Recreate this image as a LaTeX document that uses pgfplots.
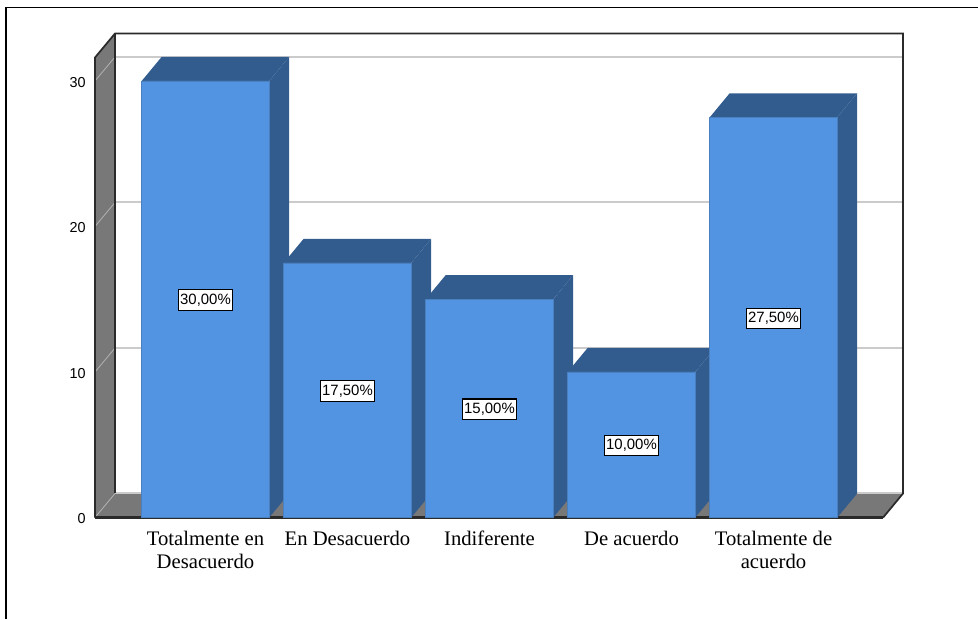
\documentclass[border=0pt]{standalone}
\usepackage{fontspec}
\setmainfont{Liberation Serif}
\setsansfont{Liberation Sans}
\usepackage{pgfplots}
\pgfplotsset{compat=1.18}
\definecolor{barfront}{HTML}{5294E2}
\definecolor{bardark}{HTML}{335C8E}
\definecolor{baredge}{HTML}{4A80C0}
\definecolor{wallgray}{HTML}{787878}
\definecolor{gridgray}{HTML}{CBCBCB}
\definecolor{framedark}{HTML}{2A2A2A}
\pgfplotstableread{
x v
0 30
1 17.5
2 15
3 10
4 27.5
}\bardata
\begin{document}
\begin{tikzpicture}
% page = 978x619 px at 0.75pt per px; axis origin sits at pixel (95,517.5)
\path[use as bounding box] (-71.25pt,-76.125pt) rectangle (662.25pt,388.125pt);
\draw[black,line width=0.9pt] (-66.75pt,-76.125pt) -- (-66.75pt,382.2pt) -- (662.25pt,382.2pt);
\begin{axis}[
  at={(0,0)},anchor=south west,
  scale only axis,width=606pt,height=363pt,
  xmin=-0.778,xmax=4.912,ymin=0,ymax=33.26,
  clip=false,
  axis line style={draw=none},
  major tick length=0pt,
  xtick={0,1,2,3,4},
  xticklabels={{\strut Totalmente en\\Desacuerdo},{\strut En Desacuerdo},{\strut Indiferente},{\strut De acuerdo},{\strut Totalmente de\\acuerdo}},
  xticklabel style={font=\fontsize{15.5}{17}\selectfont,align=center,yshift=-5.6pt},
  ytick={0,10,20,30},
  yticklabel style={font=\sffamily\fontsize{10.8}{13}\selectfont,xshift=-3.5pt,yshift=-1pt},
  /pgf/number format/assume math mode=true,
]
% walls
\addplot[fill=wallgray,draw=none] coordinates {(-0.778,0) (-0.637,1.65) (-0.637,33.26) (-0.778,31.61)} --cycle;
\addplot[fill=wallgray,draw=none] coordinates {(-0.778,0) (4.772,0) (4.912,1.65) (-0.637,1.65)} --cycle;
% gridlines on back wall and left wall
\addplot[gridgray,line width=1.5pt] coordinates {(-0.637,11.65) (4.912,11.65)};
\addplot[gridgray,line width=1.5pt] coordinates {(-0.637,21.65) (4.912,21.65)};
\addplot[gridgray,line width=1.5pt] coordinates {(-0.637,31.65) (4.912,31.65)};
\addplot[gridgray,line width=1.5pt] coordinates {(-0.637,1.65) (4.912,1.65)};
\addplot[gray!60,line width=0.6pt] coordinates {(-0.778,0) (-0.637,1.65)};
\addplot[gray!60,line width=0.6pt] coordinates {(-0.778,10) (-0.637,11.65)};
\addplot[gray!60,line width=0.6pt] coordinates {(-0.778,20) (-0.637,21.65)};
\addplot[gray!60,line width=0.6pt] coordinates {(-0.778,30) (-0.637,31.65)};
% frame
\addplot[framedark,line width=1.3pt] coordinates {(-0.778,0) (-0.778,31.61) (-0.637,33.26) (4.912,33.26) (4.912,1.65) (4.772,0)};
\addplot[framedark,line width=1.3pt] coordinates {(-0.637,33.26) (-0.637,1.65)};
\addplot[framedark,line width=1.6pt] coordinates {(-0.778,0) (4.772,0)};
% bar sides and tops
\addplot[fill=bardark,draw=none] coordinates {(0.449,0) (0.589,1.65) (0.589,31.65) (0.449,30)} --cycle;
\addplot[fill=bardark,draw=none] coordinates {(-0.449,30) (-0.309,31.65) (0.589,31.65) (0.449,30)} --cycle;
\addplot[fill=bardark,draw=none] coordinates {(1.449,0) (1.589,1.65) (1.589,19.15) (1.449,17.5)} --cycle;
\addplot[fill=bardark,draw=none] coordinates {(0.551,17.5) (0.691,19.15) (1.589,19.15) (1.449,17.5)} --cycle;
\addplot[fill=bardark,draw=none] coordinates {(2.449,0) (2.589,1.65) (2.589,16.65) (2.449,15)} --cycle;
\addplot[fill=bardark,draw=none] coordinates {(1.551,15) (1.691,16.65) (2.589,16.65) (2.449,15)} --cycle;
\addplot[fill=bardark,draw=none] coordinates {(3.449,0) (3.589,1.65) (3.589,11.65) (3.449,10)} --cycle;
\addplot[fill=bardark,draw=none] coordinates {(2.551,10) (2.691,11.65) (3.589,11.65) (3.449,10)} --cycle;
\addplot[fill=bardark,draw=none] coordinates {(4.449,0) (4.589,1.65) (4.589,29.15) (4.449,27.5)} --cycle;
\addplot[fill=bardark,draw=none] coordinates {(3.551,27.5) (3.691,29.15) (4.589,29.15) (4.449,27.5)} --cycle;
% bar fronts
\addplot[ybar,bar width=95.6pt,bar shift=0pt,fill=barfront,draw=baredge,line width=0.5pt] table[x=x,y=v] {\bardata};
% value labels
\addplot[draw=none,mark=none,
  nodes near coords,point meta=explicit symbolic,
  nodes near coords style={anchor=center,yshift=-0.6pt,font=\sffamily\fontsize{11.2}{13}\selectfont,fill=white,draw=black,line width=0.8pt,inner xsep=1.5pt,inner ysep=3pt,text=black},
] coordinates {(0,15)[30,00\%] (1,8.75)[17,50\%] (2,7.5)[15,00\%] (3,5)[10,00\%] (4,13.75)[27,50\%]};
\end{axis}
\end{tikzpicture}
\end{document}
